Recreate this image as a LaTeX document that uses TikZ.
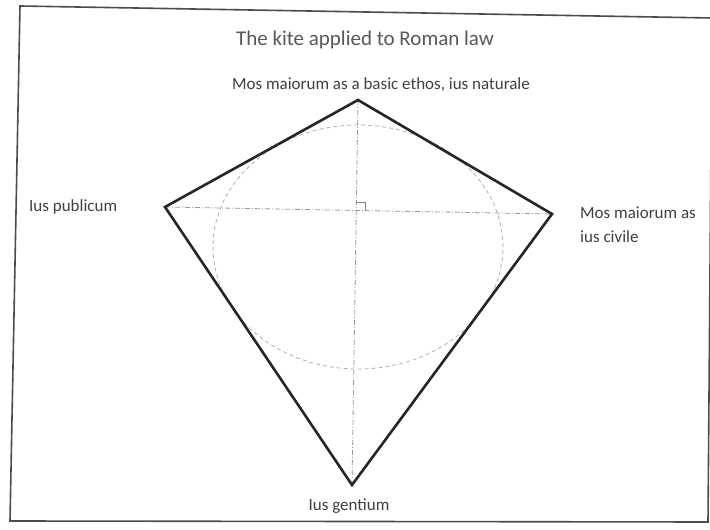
\documentclass[tikz,border=0pt]{standalone}
\usepackage{fontspec}
\setmainfont{Carlito}
\usetikzlibrary{calc}
\begin{document}
\begin{tikzpicture}[x=1pt,y=1pt,
  kiteedge/.style={line width=2.6pt,draw=black!85,line join=miter},
  axis/.style={draw=black!40,line width=0.8pt,dash pattern=on 5pt off 2pt on 1pt off 2pt},
  circ/.style={draw=black!30,line width=0.8pt,dash pattern=on 4pt off 3pt},
  frame/.style={draw=black!70,line width=1.6pt},
  lbl/.style={font=\fontsize{17}{24}\selectfont,text=black!75,inner sep=0pt},
  ttl/.style={font=\fontsize{21}{24}\selectfont,text=black!65,inner sep=0pt}]
\useasboundingbox (0,0) rectangle (710,530);
\fill[white] (0,0) rectangle (710,530);
% frame (slightly skewed scan)
\coordinate (f1) at (20,524);
\coordinate (f2) at (712,512);
\coordinate (f3) at (708,8);
\coordinate (f4) at (10,9);
\draw[frame] (f2) -- (f1) -- (f4) -- (f3) -- (f2);
% kite vertices
\coordinate (T) at (358,430);
\coordinate (L) at (165,323);
\coordinate (R) at (552,316);
\coordinate (B) at (352,45);
\coordinate (C) at (357,320);
% circle
\draw[circ] (358,283) ellipse [x radius=145, y radius=122];
% axes
\draw[axis] (T) -- (B);
\draw[axis] (L) -- (R);
\draw[black!50,line width=0.6pt] ($(C)+(8,0)$) |- ($(C)+(0,8)$);
% kite
\draw[kiteedge] (T) -- (R) -- (B) -- (L) -- cycle;
% labels
\node[ttl] (title) at (365,490) {The kite applied to Roman law};
\node[lbl] (top) at (381,445) {Mos maiorum as a basic ethos, ius naturale};
\node[lbl,anchor=west] (left) at (29,323) {Ius publicum};
\node[lbl,anchor=west,align=left] (right) at (580,305) {Mos maiorum as\\ius civile};
\node[lbl] (bot) at (349,24) {Ius gentium};
\end{tikzpicture}
\end{document}
